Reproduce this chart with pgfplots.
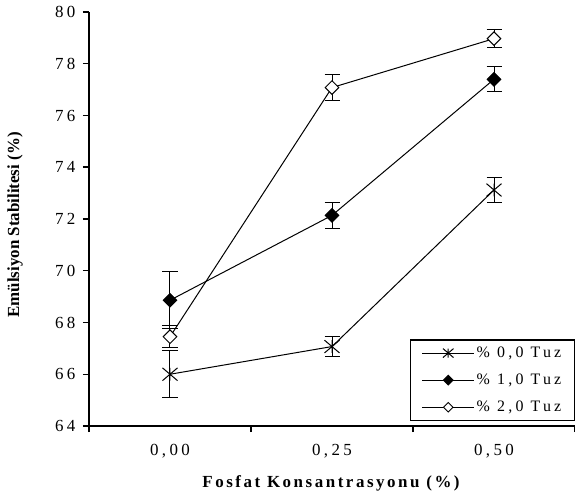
\documentclass[border=0pt]{standalone}
\usepackage{fontspec}
\setmainfont{Liberation Serif}
\newfontfamily\spfont[LetterSpace=20]{Liberation Serif}
\newfontfamily\spbfont[LetterSpace=15]{Liberation Serif}
\usepackage{pgfplots}
\pgfplotsset{compat=1.18}
\pgfdeclareplotmark{xstar}{%
 \pgfpathmoveto{\pgfqpoint{-\pgfplotmarksize}{-0.85\pgfplotmarksize}}%
 \pgfpathlineto{\pgfqpoint{\pgfplotmarksize}{0.85\pgfplotmarksize}}%
 \pgfpathmoveto{\pgfqpoint{-\pgfplotmarksize}{0.85\pgfplotmarksize}}%
 \pgfpathlineto{\pgfqpoint{\pgfplotmarksize}{-0.85\pgfplotmarksize}}%
 \pgfpathmoveto{\pgfqpoint{0pt}{-0.85\pgfplotmarksize}}%
 \pgfpathlineto{\pgfqpoint{0pt}{0.85\pgfplotmarksize}}%
 \pgfusepathqstroke}
\pgfplotstableread{
x y e
0 66.00 0.90
1 67.07 0.40
2 73.12 0.48
}\tuzA
\pgfplotstableread{
x y e
0 68.86 1.10
1 72.14 0.49
2 77.40 0.48
}\tuzB
\pgfplotstableread{
x y e
0 67.45 0.42
1 77.08 0.50
2 78.97 0.36
}\tuzC
\begin{document}
\begin{tikzpicture}
\useasboundingbox (-89bp,-71bp) rectangle (486bp,426bp);
\begin{axis}[
 width=486bp, height=414bp, scale only axis,
 xmin=-0.5, xmax=2.5, ymin=64, ymax=80,
 ytick={64,66,...,80},
 xtick={0,1,2}, xticklabels={{0,00},{0,25},{0,50}},
 minor xtick={-0.5,0.5,1.5,2.5},
 axis x line*=bottom, axis y line*=left,
 axis line style={line width=1.5bp, black},
 tick align=outside,
 major tick length=6bp, minor tick length=6bp,
 tick style={line width=1.5bp, black},
 major x tick style={draw=none},
 /pgf/number format/assume math mode=true,
 tick label style={font=\spfont\fontsize{17}{19}\selectfont},
 yticklabel style={xshift=-4bp},
 xticklabel style={yshift=-9bp},
 xlabel={\spbfont\bfseries\fontsize{17}{20}\selectfont Fosfat Konsantrasyonu (\%)},
 ylabel={\bfseries\fontsize{17}{20}\selectfont Emülsiyon Stabilitesi (\%)},
 xlabel style={at={(axis description cs:0.498,-0.138)}, anchor=center},
 ylabel style={at={(axis description cs:-0.152,0.4855)}, anchor=center},
 legend style={at={(1,0.012)}, anchor=south east, draw=black, line width=1.5bp,
   font=\spfont\fontsize{16}{18}\selectfont, row sep=11bp, inner xsep=11bp, inner ysep=5bp},
 legend cell align=left,
 legend image code/.code={\draw[mark repeat=2,mark phase=2,#1,every mark/.append style={scale=0.7}] plot coordinates {(0bp,0bp)(26bp,0bp)(52bp,0bp)};},
]
\addplot[black, line width=1bp, mark=xstar, mark size=7.5bp,
  error bars/.cd, y dir=both, y explicit,
  error bar style={line width=1bp, black},
  error mark options={rotate=90, mark size=7.5bp, line width=1bp, black}]
  table[x=x, y=y, y error=e] {\tuzA};
\addlegendentry{\% 0,0 Tuz}
\addplot[black, line width=1bp, mark=square*, mark size=4.8bp, mark options={rotate=45, fill=black},
  error bars/.cd, y dir=both, y explicit,
  error bar style={line width=1bp, black},
  error mark options={rotate=90, mark size=7.5bp, line width=1bp, black}]
  table[x=x, y=y, y error=e] {\tuzB};
\addlegendentry{\% 1,0 Tuz}
\addplot[black, line width=1bp, mark=square*, mark size=4.8bp, mark options={rotate=45, fill=white},
  error bars/.cd, y dir=both, y explicit,
  error bar style={line width=1bp, black},
  error mark options={rotate=90, mark size=7.5bp, line width=1bp, black}]
  table[x=x, y=y, y error=e] {\tuzC};
\addlegendentry{\% 2,0 Tuz}
\end{axis}
\end{tikzpicture}
\end{document}
